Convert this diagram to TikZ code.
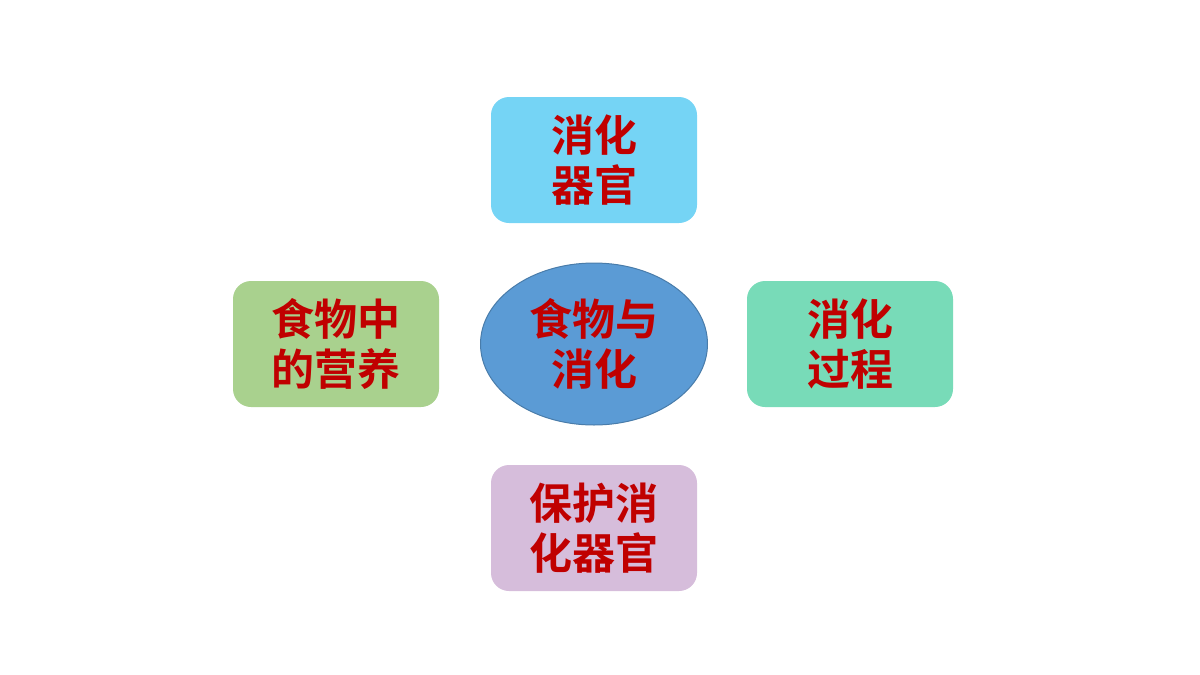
\documentclass[tikz,border=0pt]{standalone}
\usepackage{fontspec}
\newfontfamily\cjk{Noto Sans CJK SC Bold}
\usetikzlibrary{positioning}
\definecolor{topblue}{HTML}{75D4F5}
\definecolor{leftgreen}{HTML}{A9D18E}
\definecolor{rightgreen}{HTML}{78DBB8}
\definecolor{lilac}{HTML}{D6BDDB}
\definecolor{midblue}{HTML}{5B9BD5}
\definecolor{txtred}{HTML}{C00000}
\tikzset{
  topic/.style={rounded corners=18pt,minimum width=206pt,minimum height=126pt,
    align=center,text=txtred,font=\cjk\fontsize{43}{50}\selectfont},
  hub/.style={ellipse,draw=midblue!80!black,line width=1pt,fill=midblue,minimum width=227pt,
    minimum height=162pt,inner sep=0pt,align=center,text=txtred,font=\cjk\fontsize{43}{50}\selectfont}
}
\usetikzlibrary{shapes.geometric}
\begin{document}
\begin{tikzpicture}[x=1pt,y=-1pt]
\useasboundingbox (0,0) rectangle (1200,675);
\node[hub] (center) at (594,344) {食物与\\消化};
\node[topic,fill=topblue] (organs) at (594,160) {消化\\器官};
\node[topic,fill=leftgreen] (nutrition) at (336,344) {食物中\\的营养};
\node[topic,fill=rightgreen] (process) at (850,344) {消化\\过程};
\node[topic,fill=lilac] (protect) at (594,528) {保护消\\化器官};
\end{tikzpicture}
\end{document}
